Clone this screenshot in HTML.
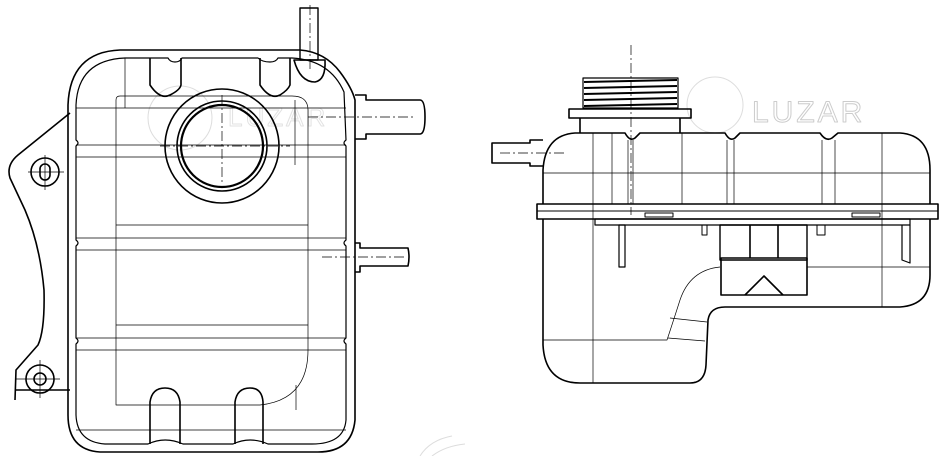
<!DOCTYPE html>
<html><head><style>
html,body{margin:0;padding:0;background:#fff;width:945px;height:456px;overflow:hidden}
svg{display:block}
</style></head><body>
<svg width="945" height="456" viewBox="0 0 945 456" fill="none" stroke="#000" stroke-linejoin="round">
<!-- watermark -->
<g stroke="#ddd" stroke-width="1">
<circle cx="180" cy="118" r="32"/>
<circle cx="715" cy="105" r="28"/>
<path d="M420 456 Q430 440 452 436 M432 456 Q445 446 465 444"/>
</g>
<text x="752" y="122" font-family="Liberation Sans, sans-serif" font-size="30" fill="none" stroke="#ccc" stroke-width="1" letter-spacing="3">LUZAR</text>
<text x="228" y="126" font-family="Liberation Sans, sans-serif" font-size="26" fill="none" stroke="#e2e2e2" stroke-width="1" letter-spacing="3">LUZAR</text>

<!-- LEFT VIEW -->
<g stroke-width="1.6">
<!-- bracket -->
<path d="M70 113 L18 155 Q6 165 10 178 L25 210 Q40 245 44 290 Q45 330 38 345 L16 370 L15 400 M15 390 L70 390"/>
<circle cx="45" cy="172" r="14"/><rect x="40" y="164" width="10" height="16" rx="5"/>
<circle cx="40" cy="379" r="14"/><circle cx="40" cy="379" r="6"/>
<!-- tank outline -->
<path d="M120 50 L300 50 Q325 52 340 72 Q352 88 355 100 L355 420 Q352 452 318 452 L100 452 Q68 450 68 415 L68 105 Q70 52 120 50 Z"/>
<path d="M125 58 L168 58 Q170 62 175 62 Q180 62 182 58 L258 58 Q262 62 270 62 Q276 62 278 58 L292 58 Q330 60 344 92 L346 140 Q342 143 346 146 L346 240 Q342 243 346 246 L346 338 Q342 341 346 344 L346 420 Q344 444 312 444 L268 444 Q250 436 233 444 L183 444 Q165 436 148 444 L105 444 Q77 442 76 415 L76 344 Q80 341 76 338 L76 246 Q80 243 76 240 L76 146 Q80 143 76 140 L76 105 Q78 60 125 58 Z" stroke-width="1.2"/>
<!-- cap -->
<circle cx="222" cy="146" r="57"/>
<circle cx="222" cy="146" r="45"/>
<circle cx="222" cy="146" r="41" stroke-width="2.2"/>
<!-- top nipple -->
<path d="M300 8 L318 8 L318 60 L300 60 Z" stroke-width="1.4"/>
<path d="M294 60 Q300 82 315 82 Q326 80 325 60 Z"/>
<!-- right pipe -->
<path d="M355 95 L366 95 L366 100 L420 100 Q425 100 425 117 Q425 134 420 134 L366 134 L366 139 L355 139"/>
<!-- lower pipe -->
<path d="M355 243 L360 243 L360 248 L408 248 Q410 257 408 266 L360 266 L360 272 L355 272"/>
<!-- bottom notches -->
<path d="M150 444 L150 402 Q152 388 165 388 Q178 388 180 402 L180 444"/>
<path d="M235 444 L235 402 Q237 388 250 388 Q262 388 263 402 L263 444"/>
<path d="M150 58 L150 85 Q160 100 170 95 Q180 90 181 85 L181 58"/>
<path d="M260 58 L260 85 Q270 100 280 95 Q288 90 290 85 L290 58"/>
</g>
<g stroke-width="0.7">
<path d="M116 405 L116 100 Q116 96 120 96 L292 96 Q308 96 308 110 L308 350 Q308 400 260 405 Z"/>
<line x1="76" y1="108" x2="346" y2="108"/><line x1="76" y1="145" x2="346" y2="145"/>
<line x1="76" y1="157" x2="346" y2="157"/><line x1="116" y1="225" x2="308" y2="225"/>
<line x1="76" y1="238" x2="346" y2="238"/><line x1="76" y1="250" x2="346" y2="250"/>
<line x1="116" y1="325" x2="308" y2="325"/><line x1="76" y1="338" x2="346" y2="338"/>
<line x1="76" y1="350" x2="346" y2="350"/><line x1="76" y1="430" x2="346" y2="430"/>
<line x1="125" y1="58" x2="125" y2="108"/><line x1="295" y1="100" x2="295" y2="165"/>
<line x1="296" y1="385" x2="296" y2="410"/>
<line x1="160" y1="146" x2="290" y2="146" stroke-dasharray="10,3,2,3"/>
<line x1="222" y1="95" x2="222" y2="185" stroke-dasharray="10,3,2,3"/>
<line x1="308" y1="117" x2="415" y2="117" stroke-dasharray="10,3,2,3"/>
<line x1="322" y1="257" x2="405" y2="257" stroke-dasharray="10,3,2,3"/>
<line x1="310" y1="5" x2="310" y2="70" stroke-dasharray="10,3,2,3"/>
<line x1="28" y1="172" x2="64" y2="172"/><line x1="45" y1="155" x2="45" y2="190"/>
<line x1="15" y1="379" x2="60" y2="379"/><line x1="40" y1="360" x2="40" y2="398"/>
</g>

<!-- RIGHT VIEW -->
<g stroke-width="1.6">
<path d="M583 78 L678 78 L678 108 L583 108 Z" stroke-width="1.2"/>
<g stroke-width="2"><line x1="584" y1="82" x2="677" y2="80"/><line x1="584" y1="88" x2="677" y2="86"/><line x1="584" y1="94" x2="677" y2="92"/><line x1="584" y1="100" x2="677" y2="98"/><line x1="584" y1="106" x2="677" y2="104"/></g>
<rect x="569" y="109" width="122" height="9"/>
<path d="M580 118 L580 133 M680 118 L680 133"/>
<path d="M543 204 L543 170 Q545 135 575 133 L625 133 Q630 142 635 138 L640 133 L725 133 Q730 142 735 138 L740 133 L820 133 Q826 142 832 138 L838 133 L900 133 Q930 135 930 170 L930 204"/>
<rect x="537" y="204" width="401" height="15"/>
<line x1="537" y1="211" x2="938" y2="211" stroke-width="1"/>
<rect x="595" y="219" width="315" height="6" stroke-width="1.2"/>
<path d="M543 219 L543 345 Q545 383 580 383 L690 383 Q705 383 706 365 L708 320 Q710 307 725 307 L900 307 Q930 305 930 275 L930 219"/>
<path d="M543 140 L530 140 L530 143 L492 143 L492 163 L530 163 L530 166 L543 166"/>
<rect x="720" y="225" width="87" height="35" stroke-width="1.4"/>
<line x1="750" y1="225" x2="750" y2="258"/><line x1="778" y1="225" x2="778" y2="258"/>
<rect x="721" y="258" width="86" height="37"/>
<path d="M745 295 L764 276 L783 295"/>
<rect x="619" y="225" width="6" height="42" stroke-width="1.2"/>
<rect x="702" y="225" width="5" height="10" stroke-width="1"/>
<rect x="817" y="225" width="8" height="10" stroke-width="1"/>
<path d="M902 225 L902 260 L910 263 L910 225" stroke-width="1.2"/>
<rect x="645" y="213" width="28" height="4" stroke-width="1"/>
<rect x="852" y="213" width="28" height="4" stroke-width="1"/>
</g>
<g stroke-width="0.7">
<path d="M720 267 Q690 270 680 300 Q672 325 667 340 L620 340 L543 340" />
<path d="M670 318 L707 322 M668 338 L705 341"/>
<line x1="543" y1="173" x2="930" y2="173"/>
<line x1="593" y1="133" x2="593" y2="383"/>
<line x1="628" y1="140" x2="628" y2="204"/><line x1="633" y1="140" x2="633" y2="204"/>
<line x1="727" y1="140" x2="727" y2="204"/><line x1="734" y1="140" x2="734" y2="204"/>
<line x1="822" y1="140" x2="822" y2="204"/><line x1="835" y1="140" x2="835" y2="204"/>
<line x1="682" y1="133" x2="682" y2="204"/><line x1="612" y1="133" x2="612" y2="204"/>
<line x1="882" y1="133" x2="882" y2="307"/>
<line x1="807" y1="267" x2="930" y2="267"/>
<line x1="631" y1="45" x2="631" y2="215" stroke-dasharray="10,3,2,3"/>
<line x1="500" y1="153" x2="565" y2="153" stroke-dasharray="10,3,2,3"/>
</g>
</svg>
</body></html>
